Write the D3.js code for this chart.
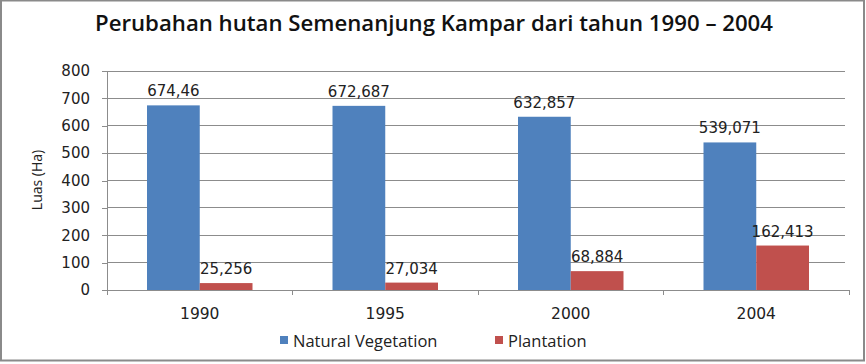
<!DOCTYPE html>
<html>
<head>
<meta charset="utf-8">
<script src="https://cdn.jsdelivr.net/npm/d3@7"></script>
<style>
  html, body { margin: 0; padding: 0; background: #fff; }
  svg { display: block; }
  .axis text { font-family: "DejaVu Sans", sans-serif; font-size: 13px; fill: #222; }
</style>
</head>
<body>
<div id="chart"></div>
<script>
const years = ["1990", "1995", "2000", "2004"];
const seriesNames = ["Natural Vegetation", "Plantation"];
const naturalVegetation = [674.46, 672.687, 632.857, 539.071];
const plantation = [25.256, 27.034, 68.884, 162.413];
const labelsNatural = ["674,46", "672,687", "632,857", "539,071"];
const labelsPlantation = ["25,256", "27,034", "68,884", "162,413"];
const yTicks = [0, 100, 200, 300, 400, 500, 600, 700, 800];
const colors = ["#4f81bd", "#c0504d"];

const W = 866, H = 364;
const margin = {top: 71, right: 17, bottom: 74, left: 107};
const width = W - margin.left - margin.right;
const height = H - margin.top - margin.bottom;

const root = d3.select("#chart").append("svg")
    .attr("width", W)
    .attr("height", H);

// outer frame
root.append("rect")
    .attr("x", 1).attr("y", 0.5)
    .attr("width", W - 3).attr("height", H - 4)
    .attr("fill", "#fff")
    .attr("stroke", "#8a8a8a")
    .attr("stroke-width", 2);

root.append("text")
    .attr("x", 434).attr("y", 31)
    .attr("text-anchor", "middle")
    .style("font-family", "'Open Sans', sans-serif")
    .style("font-weight", 600)
    .style("font-size", "22.2px")
    .style("fill", "#111")
    .text("Perubahan hutan Semenanjung Kampar dari tahun 1990 \u2013 2004");

const svg = root.append("g")
    .attr("transform", `translate(${margin.left},${margin.top})`);

const x = d3.scaleBand().domain(years).range([0, width]).paddingInner(0).paddingOuter(0);
const xs = d3.scaleBand().domain(seriesNames).range([40, x.bandwidth() - 40]);
const y = d3.scaleLinear().domain([0, 800]).range([height, 0]);

// gridlines
svg.append("g")
    .selectAll("line")
    .data(yTicks.slice(1))
    .join("line")
    .attr("x1", 0).attr("x2", width - 4)
    .attr("y1", d => y(d)).attr("y2", d => y(d))
    .attr("stroke", "#8c8c8c")
    .attr("stroke-width", 1)
    .attr("shape-rendering", "crispEdges");

// y axis
const yAxis = svg.append("g")
    .attr("class", "axis")
    .call(d3.axisLeft(y).tickValues(yTicks).tickSize(5).tickPadding(12));
yAxis.selectAll("line, path").attr("stroke", "#8c8c8c").attr("shape-rendering", "crispEdges");
yAxis.select(".domain").attr("d", `M-5,${height}H0V0H-5`);
yAxis.selectAll("text").style("font-size", "15px");

// x axis
const xAxis = svg.append("g")
    .attr("class", "axis")
    .attr("transform", `translate(0,${height})`)
    .call(d3.axisBottom(x).tickSize(0).tickPadding(18));
xAxis.select(".domain").attr("stroke", "#8c8c8c").attr("shape-rendering", "crispEdges")
    .attr("d", `M0,0H${width}`);
xAxis.selectAll("text").style("font-size", "15.5px");
xAxis.append("g")
    .selectAll("line")
    .data(d3.range(years.length + 1))
    .join("line")
    .attr("x1", i => i * x.step()).attr("x2", i => i * x.step())
    .attr("y1", 0).attr("y2", 5)
    .attr("stroke", "#8c8c8c")
    .attr("shape-rendering", "crispEdges");

const rows = years.map((yr, i) => ({
    year: yr,
    values: [
        {s: seriesNames[0], v: naturalVegetation[i], label: labelsNatural[i], c: colors[0]},
        {s: seriesNames[1], v: plantation[i], label: labelsPlantation[i], c: colors[1]}
    ]
}));

const groups = svg.selectAll(".grp")
    .data(rows)
    .join("g")
    .attr("class", "grp")
    .attr("transform", d => `translate(${x(d.year)},0)`);

groups.selectAll("rect")
    .data(d => d.values)
    .join("rect")
    .attr("x", d => xs(d.s))
    .attr("width", xs.bandwidth())
    .attr("y", d => y(d.v))
    .attr("height", d => y(0) - y(d.v))
    .attr("fill", d => d.c);

groups.selectAll(".lbl")
    .data(d => d.values)
    .join("text")
    .attr("class", "lbl")
    .attr("x", d => xs(d.s) + xs.bandwidth() / 2)
    .attr("y", d => y(d.v) - 9)
    .attr("text-anchor", "middle")
    .style("font-family", "'DejaVu Sans', sans-serif")
    .style("font-size", "15px")
    .style("fill", "#222")
    .text(d => d.label);

// y axis title
root.append("text")
    .attr("transform", "translate(42,180) rotate(-90)")
    .attr("text-anchor", "middle")
    .style("font-family", "'Open Sans', sans-serif")
    .style("font-size", "14px")
    .style("fill", "#222")
    .text("Luas (Ha)");

// legend
const legendX = [280, 495];
const legend = root.append("g").attr("transform", "translate(0,341)");
const li = legend.selectAll("g")
    .data(seriesNames)
    .join("g")
    .attr("transform", (d, i) => `translate(${legendX[i]},0)`);
li.append("rect")
    .attr("x", 0).attr("y", -5)
    .attr("width", 8).attr("height", 8)
    .attr("fill", (d, i) => colors[i]);
li.append("text")
    .attr("x", 13).attr("y", 6)
    .style("font-family", "'Open Sans', sans-serif")
    .style("font-size", "16.5px")
    .style("fill", "#222")
    .text(d => d);
</script>
</body>
</html>
